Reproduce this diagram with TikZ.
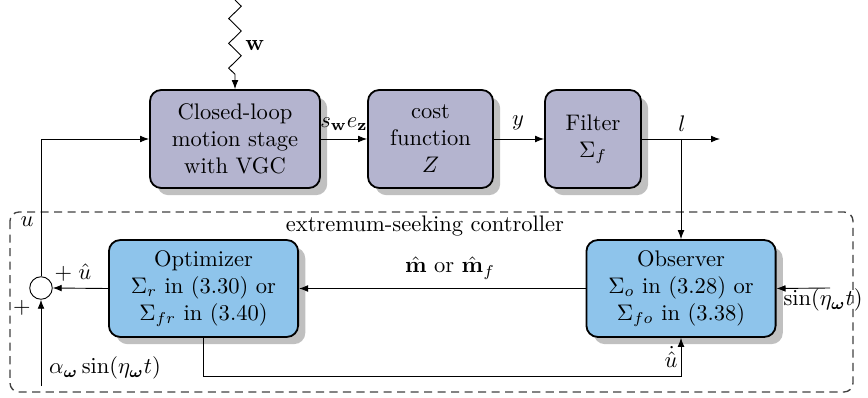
\documentclass[tikz,border=0pt]{standalone}
\usepackage{amsmath,amssymb}
\usetikzlibrary{shadows,decorations.pathmorphing,arrows.meta,calc}
\definecolor{plantfill}{RGB}{180,180,207}
\definecolor{escfill}{RGB}{142,196,235}
\definecolor{shadowgray}{RGB}{192,192,192}
\tikzset{
  blk/.style={draw, thick, rounded corners=5pt, align=center, inner sep=0pt,
    drop shadow={shadow xshift=3.2pt, shadow yshift=-3.2pt, fill=shadowgray, opacity=1}},
  plant/.style={blk, fill=plantfill},
  esc/.style={blk, fill=escfill, minimum width=84pt, minimum height=43pt},
  sig/.style={-{Latex[length=4pt,width=3pt]}},
  lbl/.style={inner sep=1pt},
  frame/.style={dash pattern=on 3.6pt off 2.4pt, rounded corners=4pt, black!75, semithick},
}
\begin{document}
\begin{tikzpicture}[x=0.444pt, y=-0.444pt]
\useasboundingbox (0,0) rectangle (868,398);

% controller frame
\draw[frame] (10,212) rectangle (853,392);
\node[lbl] (esclbl) at (425,226) {extremum-seeking controller};

% plant-side blocks
\node[plant, minimum width=75.5pt, minimum height=43.5pt] (cl) at (235,139)
  {Closed-loop\\motion stage\\with VGC};
\node[plant, minimum width=55.5pt, minimum height=43.5pt] (cost) at (430.5,139)
  {cost\\function\\$Z$};
\node[plant, minimum width=42.6pt, minimum height=43.5pt] (filt) at (593,139)
  {Filter\\$\Sigma_f$};

% controller blocks
\node[esc] (obs) at (681,288.5)
  {Observer\\$\Sigma_o$ in (3.28) or\\$\Sigma_{fo}$ in (3.38)};
\node[esc] (opt) at (203.5,288.5)
  {Optimizer\\$\Sigma_r$ in (3.30) or\\$\Sigma_{fr}$ in (3.40)};

\node[draw, circle, minimum size=10pt, inner sep=0pt] (sum) at (41,288) {};

% disturbance input
\coordinate (wtop) at (235,0);
\draw[sig, decorate, decoration={zigzag, segment length=11pt, amplitude=2.8pt, post length=5pt}]
  (wtop) -- (cl.north);
\node[lbl] (wlbl) at (255,45) {$\mathbf{w}$};

% forward path
\draw[sig] (cl.east) -- (cost.west);
\node[lbl] (swlbl) at (344,124) {$s_{\mathbf{w}}e_{\mathbf{z}}$};
\draw[sig] (cost.east) -- (filt.west);
\node[lbl] (ylbl) at (518,123) {$y$};
\coordinate (lout) at (720,139);
\coordinate (lbr) at (681,139);
\draw[sig] (filt.east) -- (lout);
\node[lbl] (llbl) at (682,124) {$l$};
\draw[sig] (lbr) -- (obs.north);

% controller internals
\draw[sig] (obs.west) -- (opt.east);
\node[lbl] (mlbl) at (450,268) {$\hat{\mathbf{m}}$ or $\hat{\mathbf{m}}_f$};
\coordinate (sinin) at (830,288);
\draw[sig] (sinin) -- (obs.east);
\node[lbl] (sinlbl) at (823,300) {$\sin(\eta_{\boldsymbol{\omega}}t)$};
\coordinate (fb) at (681,376);
\draw[sig] (opt.south) |- (fb) -- (obs.south);
\node[lbl] (udlbl) at (671,357) {$\dot{\hat{u}}$};

% summation and plant input
\draw[sig] (opt.west) -- (sum.east);
\node[lbl] (uhlbl) at (73,273) {$+\;\hat{u}$};
\coordinate (dith) at (41,386);
\draw[sig] (dith) -- (sum.south);
\node[lbl] (plbl) at (22,308) {$+$};
\node[lbl] (albl) at (105,368) {$\alpha_{\boldsymbol{\omega}}\sin(\eta_{\boldsymbol{\omega}}t)$};
\draw[sig] (sum.north) |- (cl.west);
\node[lbl] (ulbl) at (27,222) {$u$};
\end{tikzpicture}
\end{document}
